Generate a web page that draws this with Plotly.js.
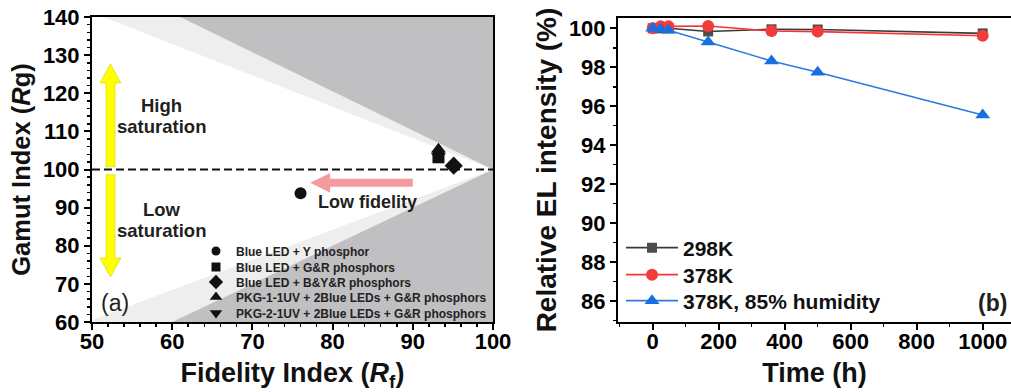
<!DOCTYPE html>
<html><head><meta charset="utf-8">
<script src="https://cdn.plot.ly/plotly-3.0.1.min.js"></script>
<style>html,body{margin:0;padding:0;background:#fff}#chart{width:1011px;height:392px}</style>
</head><body><div id="chart"></div>
<script>
// ---- Panel (a) data ----
const sourceLabels = ['Blue LED + Y phosphor','Blue LED + G&R phosphors','Blue LED + B&Y&R phosphors','PKG-1-1UV + 2Blue LEDs + G&R phosphors','PKG-2-1UV + 2Blue LEDs + G&R phosphors'];
const sourceSymbols = ['circle','square','diamond','triangle-up','triangle-down'];
const fidelityRf = [76.0, 93.2, 95.1, 93.2, 93.2];
const gamutRg = [93.8, 103.2, 101.0, 105.3, 103.4];
// ---- Panel (b) data ----
const timeH = [0, 24, 48, 168, 360, 500, 1000];
const el298K = [100, 100, 100, 99.84, 99.95, 99.94, 99.74];
const el378K = [100, 100.1, 100.1, 100.12, 99.86, 99.83, 99.62];
const el378KHum = [100, 99.95, 99.9, 99.3, 98.32, 97.74, 95.55];
const seriesNames = ['298K','378K','378K, 85% humidity'];

const FONT = 'Liberation Sans, Arial, sans-serif';
const W = 1011, H = 392;

const traces = [];
const legends = {};
// left legend rows (px)
const legRowsA = [251, 267, 282, 297, 313];
const symSizeA = [12, 12, 14, 13, 13];
const legSymSizeA = [9, 9, 11, 11, 11];
const drawOrder = [4, 0, 1, 2, 3];
drawOrder.forEach(function(i){
  traces.push({
    type:'scatter', mode:'markers', x:[fidelityRf[i]], y:[gamutRg[i]],
    name:sourceLabels[i], xaxis:'x', yaxis:'y', showlegend:false,
    marker:{symbol:sourceSymbols[i], size:symSizeA[i], color:'#111111'}
  });
});
sourceLabels.forEach(function(lbl, i){
  const lname = i === 0 ? 'legend' : 'legend' + (i + 1);
  // legend key only (no data drawn)
  traces.push({
    type:'scatter', mode:'markers', x:[null], y:[null], name:lbl, xaxis:'x', yaxis:'y', legend:lname,
    marker:{symbol:sourceSymbols[i], size:legSymSizeA[i], color:'#111111'}
  });
  legends[lname] = {
    x:196/W, xanchor:'left', y:1 - legRowsA[i]/H, yanchor:'middle',
    bgcolor:'rgba(0,0,0,0)', borderwidth:0,
    font:{family:FONT, size:12, color:'#222', weight:'bold'}
  };
});

const seriesY = [el298K, el378K, el378KHum];
const seriesStyle = [
  {sym:'square', size:10, mcol:'#4d4d4d', lcol:'#3a3a3a'},
  {sym:'circle', size:12, mcol:'#f23b3b', lcol:'#f53535'},
  {sym:'triangle-up', size:13, mcol:'#1a6fe0', lcol:'#2a7ae2'}
];
const legRowsB = [248, 275, 301];
seriesY.forEach(function(ys, k){
  const lname = 'legend' + (6 + k);
  traces.push({
    type:'scatter', mode:'lines+markers', x:timeH, y:ys, name:seriesNames[k],
    xaxis:'x2', yaxis:'y2', legend:lname,
    line:{color:seriesStyle[k].lcol, width:1.6},
    marker:{symbol:seriesStyle[k].sym, size:seriesStyle[k].size, color:seriesStyle[k].mcol}
  });
  legends[lname] = {
    x:621/W, xanchor:'left', y:1 - legRowsB[k]/H, yanchor:'middle',
    bgcolor:'rgba(0,0,0,0)', borderwidth:0, itemwidth:52,
    font:{family:FONT, size:21, color:'#111', weight:'bold'}
  };
});

const axFont = {family:FONT, size:22, color:'#000', weight:'bold'};
const titleFont = {family:FONT, size:27, color:'#111', weight:'bold'};

const shapes = [
  {type:'path', xref:'x', yref:'y', layer:'below', path:'M51.4,140 L100,100 L100,140 Z', fillcolor:'#eeeeef', line:{width:0}},
  {type:'path', xref:'x', yref:'y', layer:'below', path:'M50,60.5 L100,100 L100,60 L50,60 Z', fillcolor:'#eeeeef', line:{width:0}},
  {type:'path', xref:'x', yref:'y', layer:'below', path:'M61,140 L100,100 L100,140 Z', fillcolor:'#c0bfc1', line:{width:0}},
  {type:'path', xref:'x', yref:'y', layer:'below', path:'M60,60 L100,100 L100,60 Z', fillcolor:'#c0bfc1', line:{width:0}},
  {type:'line', xref:'x', yref:'y', x0:50, x1:100, y0:100, y1:100, line:{color:'#111', width:2, dash:'8px,4px'}},
  {type:'path', xref:'x', yref:'y', path:'M51.75,100.7 L51.75,122.7 L51.0,122.7 L52.3,127.7 L53.6,122.7 L52.87,122.7 L52.87,100.7 Z', fillcolor:'#ffff00', line:{color:'#d8cc00', width:0.6}},
  {type:'path', xref:'x', yref:'y', path:'M51.75,98.6 L51.75,76.8 L51.0,76.8 L52.3,71.8 L53.6,76.8 L52.87,76.8 L52.87,98.6 Z', fillcolor:'#ffff00', line:{color:'#d8cc00', width:0.6}},
  {type:'path', xref:'x', yref:'y', path:'M90.0,95.45 L79.7,95.45 L79.7,93.9 L77.2,96.5 L79.7,99.1 L79.7,97.55 L90.0,97.55 Z', fillcolor:'#f29ca0', line:{width:0}}
];

const ann = function(text, x, y, size, bold, xref, yref){
  return {text:text, x:x, y:y, xref:xref||'x', yref:yref||'y', showarrow:false,
    font:{family:FONT, size:size, color:'#231f20', weight: bold ? 'bold' : 'normal'}, xanchor:'center', yanchor:'middle'};
};
const annotations = [
  ann('High', 58.7, 116.9, 18.5, true),
  ann('saturation', 58.7, 111.4, 18.5, true),
  ann('Low', 58.7, 89.4, 18.5, true),
  ann('saturation', 58.7, 83.9, 18.5, true),
  ann('Low fidelity', 84.3, 91.5, 18, true),
  ann('(a)', 52.9, 65.0, 23, false),
  ann('(b)', 1031, 85.9, 23, true, 'x2', 'y2')
];

const tickCommon = {ticks:'outside', ticklen:6, tickwidth:2, tickcolor:'#000',
  showline:true, linewidth:2, linecolor:'#000', showgrid:false, zeroline:false, tickfont:axFont};

const layout = Object.assign({
  width:W, height:H, margin:{l:0, r:0, t:0, b:0},
  paper_bgcolor:'#fff', plot_bgcolor:'#fff', showlegend:true,
  font:{family:FONT, color:'#000'},
  xaxis:Object.assign({}, tickCommon, {domain:[92/W, 493/W], range:[50,100], dtick:10, tick0:50, mirror:true, ticklabelstandoff:-7,
    minor:{dtick:2, ticks:'outside', ticklen:3, tickwidth:1.5, tickcolor:'#000'},
    title:{text:'Fidelity Index (<i>R</i><sub>f</sub>)', font:titleFont, standoff:18}}),
  yaxis:Object.assign({}, tickCommon, {domain:[1-322/H, 1-17/H], range:[60,140], dtick:10, tick0:60, mirror:true,
    minor:{dtick:2, ticks:'outside', ticklen:3, tickwidth:1.5, tickcolor:'#000'},
    title:{text:'Gamut Index (<i>R</i>g)', font:Object.assign({}, titleFont, {size:25.5}), standoff:5}}),
  xaxis2:Object.assign({}, tickCommon, {domain:[618/W, 1], range:[-105.2,1085.8], dtick:200, tick0:0, mirror:true, anchor:'y2', ticklabelstandoff:-7,
    minor:{dtick:100, ticks:'outside', ticklen:3, tickwidth:1.5, tickcolor:'#000'},
    title:{text:'Time (h)', font:titleFont, standoff:10}}),
  yaxis2:Object.assign({}, tickCommon, {domain:[1-322/H, 1-18/H], range:[84.92,100.53], dtick:2, tick0:86, mirror:false, anchor:'x2',
    minor:{dtick:1, ticks:'outside', ticklen:3, tickwidth:1.5, tickcolor:'#000'},
    title:{text:'Relative EL intensity (%)', font:Object.assign({}, titleFont, {size:28}), standoff:4}}),
  shapes:shapes, annotations:annotations
}, legends);

Plotly.newPlot('chart', traces, layout, {displayModeBar:false, staticPlot:true});
</script></body></html>
